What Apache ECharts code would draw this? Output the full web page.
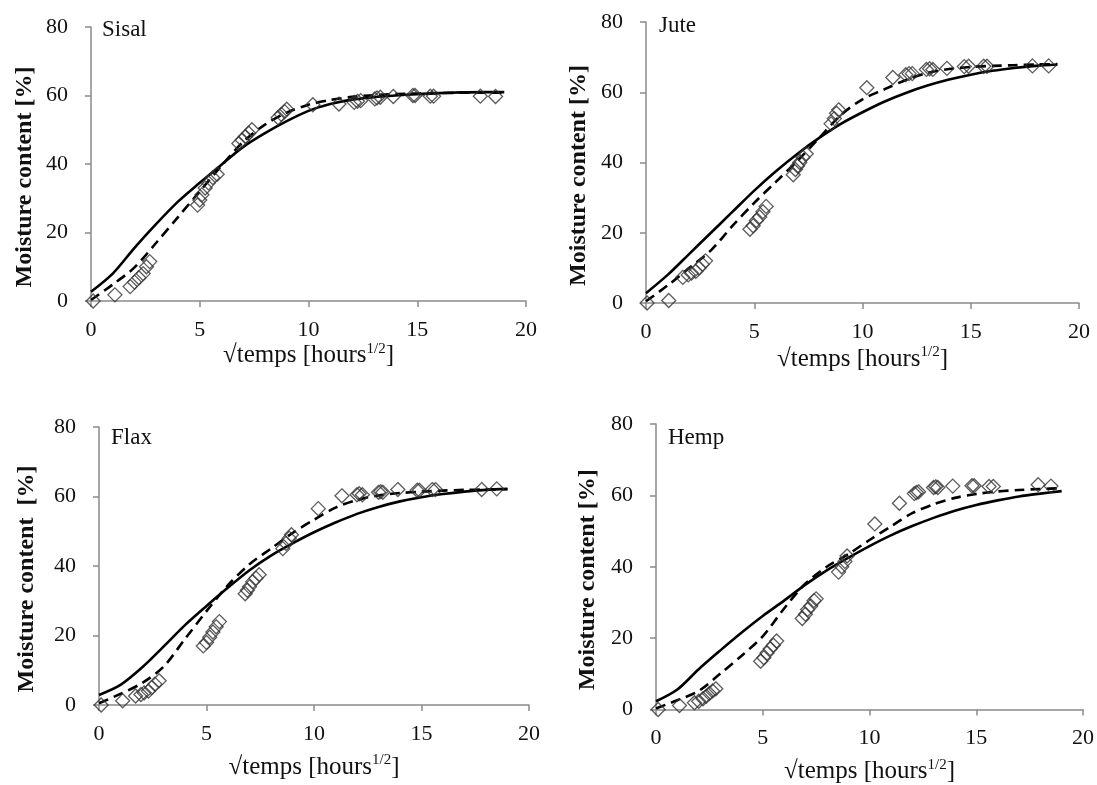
<!DOCTYPE html>
<html>
<head>
<meta charset="utf-8">
<script src="https://cdn.jsdelivr.net/npm/echarts@6/dist/echarts.min.js"></script>
<style>
  html, body { margin: 0; padding: 0; background: #fff; }
  #chart { width: 1097px; height: 785px; }
</style>
</head>
<body>
<div id="chart"></div>
<script>
// x positions (sqrt hours) of the two model curves
var fitX = [0, 1, 2, 3, 4, 5, 6, 7, 8, 9, 10, 11, 12, 13, 14, 15, 16, 17, 18, 19];

// Sisal
var sisalX = [0.1, 1.1, 1.8, 2.0, 2.2, 2.4, 2.55, 2.7, 4.9, 5.0, 5.1, 5.25, 5.4, 5.6, 5.8, 6.8, 6.95, 7.1, 7.25, 7.4, 8.6, 8.75, 8.9, 9.0, 10.2, 11.4, 12.1, 12.25, 12.4, 13.05, 13.15, 13.3, 13.9, 14.8, 14.9, 15.6, 15.75, 17.9, 18.6];
var sisalY = [0, 1.8, 4.2, 5.5, 6.8, 8, 10, 11.5, 28, 29.5, 31, 33, 34.5, 36, 37, 46, 47, 48, 49, 50, 53.5, 54.5, 55.3, 56, 57.3, 57.5, 58, 58.3, 58.5, 59, 59.3, 59.5, 59.7, 60, 60, 59.8, 59.8, 59.8, 59.7];
var sisalSolid = [2.7, 8, 15.5, 22.5, 29, 34.5, 39.8, 45, 49, 52.5, 55.5, 57.5, 58.8, 59.5, 60, 60.4, 60.7, 60.9, 61, 61];
var sisalDashed = [0.3, 4.8, 9.8, 17, 24.5, 32, 39.5, 46.5, 51.5, 55, 57.3, 58.7, 59.6, 60.1, 60.4, 60.6, 60.7, 60.8, 60.8, 60.8];

// Jute
var juteX = [0.05, 1.05, 1.7, 1.95, 2.1, 2.3, 2.45, 2.6, 2.75, 4.8, 4.95, 5.1, 5.25, 5.4, 5.55, 6.8, 6.9, 7.0, 7.1, 7.25, 7.4, 8.55, 8.7, 8.8, 8.9, 10.2, 11.4, 12.0, 12.15, 12.3, 12.95, 13.1, 13.25, 13.9, 14.7, 14.9, 15.6, 15.75, 17.85, 18.6];
var juteY = [0, 0.7, 7.3, 8, 8.5, 9, 10, 11, 12, 21, 22, 23.5, 24.5, 26, 27.5, 36.5, 38, 39, 40, 41.5, 42.5, 51, 52.5, 54, 55, 61.3, 64.2, 65, 65.3, 65.3, 66.5, 66.7, 66.5, 66.8, 67.3, 67.4, 67.4, 67.4, 67.5, 67.5];
var juteSolid = [2.8, 8, 14, 20, 26, 32, 37.5, 42.5, 47, 51, 54.3, 57.3, 59.8, 61.9, 63.6, 65, 66.1, 66.9, 67.5, 67.9];
var juteDashed = [0.5, 5, 10, 15, 22, 28.5, 34.5, 40.5, 47, 53.5, 58, 60.8, 63.5, 65.5, 66.6, 67.2, 67.5, 67.7, 67.9, 68];

// Flax
var flaxX = [0.1, 1.1, 1.7, 1.95, 2.1, 2.3, 2.45, 2.6, 2.8, 4.85, 5.0, 5.15, 5.3, 5.45, 5.6, 6.8, 6.9, 7.0, 7.15, 7.3, 7.45, 8.55, 8.7, 8.85, 8.95, 10.2, 11.3, 12.0, 12.1, 12.25, 13.0, 13.1, 13.2, 13.9, 14.8, 14.9, 15.5, 15.65, 17.8, 18.5];
var flaxY = [0, 1.2, 2.6, 3, 3.5, 4, 5, 6, 7, 17, 18, 19.5, 21, 22.5, 24, 32, 33, 34, 35.5, 36.5, 37.5, 45, 46.5, 48, 49, 56.5, 60.2, 60.5, 60.8, 60.5, 61.2, 61.4, 61.2, 62, 61.8, 61.8, 62, 62, 62, 62.2];
var flaxSolid = [2.9, 5.8, 10.8, 16.8, 23, 28.5, 33.8, 38.8, 43, 46.5, 49.7, 52.5, 55, 57, 58.6, 59.8, 60.7, 61.4, 61.9, 62.2];
var flaxDashed = [0.5, 3.2, 6.3, 11, 19, 27, 34.5, 40.5, 45, 49.5, 53.3, 56.8, 59, 60.3, 61, 61.4, 61.7, 61.9, 62, 62.1];

// Hemp
var hempX = [0.1, 1.1, 1.8, 2.0, 2.2, 2.35, 2.5, 2.65, 2.8, 4.9, 5.05, 5.2, 5.35, 5.5, 5.65, 6.85, 7.0, 7.1, 7.25, 7.4, 7.5, 8.55, 8.7, 8.85, 8.95, 10.25, 11.4, 12.1, 12.2, 12.3, 13.0, 13.1, 13.2, 13.9, 14.8, 14.9, 15.6, 15.8, 17.9, 18.5];
var hempY = [0, 1.1, 1.9, 2.3, 3, 3.7, 4.5, 5.2, 5.8, 13.5, 14.5, 15.8, 17, 18, 19.2, 25.5, 26.7, 28, 29, 30.5, 31, 38.5, 40, 41.5, 43, 52, 57.8, 60.5, 60.8, 61, 62.2, 62.4, 62.2, 62.6, 62.7, 62.7, 62.5, 62.5, 63, 62.6];
var hempSolid = [2.3, 5.6, 11.3, 16.5, 21.5, 26.2, 30.5, 35, 39, 42.5, 45.8, 48.8, 51.4, 53.7, 55.7, 57.3, 58.6, 59.7, 60.5, 61.2];
var hempDashed = [0.3, 2.6, 5.2, 10, 15, 20.5, 28.3, 35.3, 40, 43.5, 47.5, 51.3, 55, 57.5, 59.3, 60.4, 61.1, 61.5, 61.8, 62];

var xTicks = [0, 5, 10, 15, 20];
var yTicks = [0, 20, 40, 60, 80];

var panels = [
  { name: 'Sisal', px: sisalX, py: sisalY, solid: sisalSolid, dashed: sisalDashed, yName: 'Moisture content [%]',
    grid: { left: 91, top: 27, width: 435, height: 274 }, label: { left: 97, top: 13 }, xGap: 40, yGap: 54 },
  { name: 'Jute', px: juteX, py: juteY, solid: juteSolid, dashed: juteDashed, yName: 'Moisture content [%]',
    grid: { left: 646, top: 22, width: 433, height: 281 }, label: { left: 654, top: 9 }, xGap: 42, yGap: 55 },
  { name: 'Flax', px: flaxX, py: flaxY, solid: flaxSolid, dashed: flaxDashed, yName: 'Moisture content  [%]',
    grid: { left: 99, top: 427, width: 430, height: 278 }, label: { left: 106, top: 421 }, xGap: 48, yGap: 60 },
  { name: 'Hemp', px: hempX, py: hempY, solid: hempSolid, dashed: hempDashed, yName: 'Moisture content [%]',
    grid: { left: 656, top: 424, width: 428, height: 286 }, label: { left: 663, top: 421 }, xGap: 48, yGap: 56 }
];

var font = 'Liberation Serif';
var axisColor = '#8a8a8a';

function pairs(xs, ys) {
  return xs.map(function (x, i) { return [x, ys[i]]; });
}

var option = {
  animation: false,
  backgroundColor: '#fff',
  title: [],
  grid: [],
  xAxis: [],
  yAxis: [],
  series: []
};

panels.forEach(function (p, i) {
  option.title.push({
    text: p.name,
    left: p.label.left,
    top: p.label.top,
    textStyle: { fontFamily: font, fontSize: 23, fontWeight: 'normal', color: '#111' }
  });
  option.grid.push(p.grid);
  option.xAxis.push({
    gridIndex: i,
    type: 'value',
    min: xTicks[0],
    max: xTicks[xTicks.length - 1],
    interval: 5,
    name: '√temps [hours{sup|1/2}]',
    nameLocation: 'middle',
    nameGap: p.xGap,
    nameTextStyle: {
      fontFamily: font, fontSize: 25, color: '#111',
      rich: { sup: { fontFamily: font, fontSize: 15, color: '#111', verticalAlign: 'top', padding: [0, 0, 13, 0] } }
    },
    axisLine: { show: true, lineStyle: { color: axisColor, width: 1.5 } },
    axisTick: { show: true, length: 6, lineStyle: { color: axisColor, width: 1.5 } },
    axisLabel: { fontFamily: font, fontSize: 22, color: '#111', margin: 18 },
    splitLine: { show: false }
  });
  option.yAxis.push({
    gridIndex: i,
    type: 'value',
    min: yTicks[0],
    max: yTicks[yTicks.length - 1],
    interval: 20,
    name: p.yName,
    nameLocation: 'middle',
    nameGap: p.yGap,
    nameRotate: 90,
    nameTextStyle: { fontFamily: font, fontSize: 24, fontWeight: 'bold', color: '#111', padding: [0, 26, 0, 0] },
    axisLine: { show: true, lineStyle: { color: axisColor, width: 1.5 } },
    axisTick: { show: true, length: 6, lineStyle: { color: axisColor, width: 1.5 } },
    axisLabel: { fontFamily: font, fontSize: 22, color: '#111', margin: 23 },
    splitLine: { show: false }
  });
  option.series.push({
    type: 'line',
    xAxisIndex: i,
    yAxisIndex: i,
    data: pairs(fitX, p.solid),
    smooth: 0.3,
    symbol: 'none',
    lineStyle: { color: '#000', width: 2.6 },
    z: 2
  });
  option.series.push({
    type: 'line',
    xAxisIndex: i,
    yAxisIndex: i,
    data: pairs(fitX, p.dashed),
    smooth: 0.3,
    symbol: 'none',
    lineStyle: { color: '#000', width: 2.6, type: [10, 6] },
    z: 2
  });
  option.series.push({
    type: 'scatter',
    xAxisIndex: i,
    yAxisIndex: i,
    data: pairs(p.px, p.py),
    symbol: 'diamond',
    symbolSize: 14,
    itemStyle: { color: 'transparent', borderColor: '#333', borderWidth: 1.3 },
    z: 3
  });
});

var chart = echarts.init(document.getElementById('chart'));
chart.setOption(option);
</script>
</body>
</html>
